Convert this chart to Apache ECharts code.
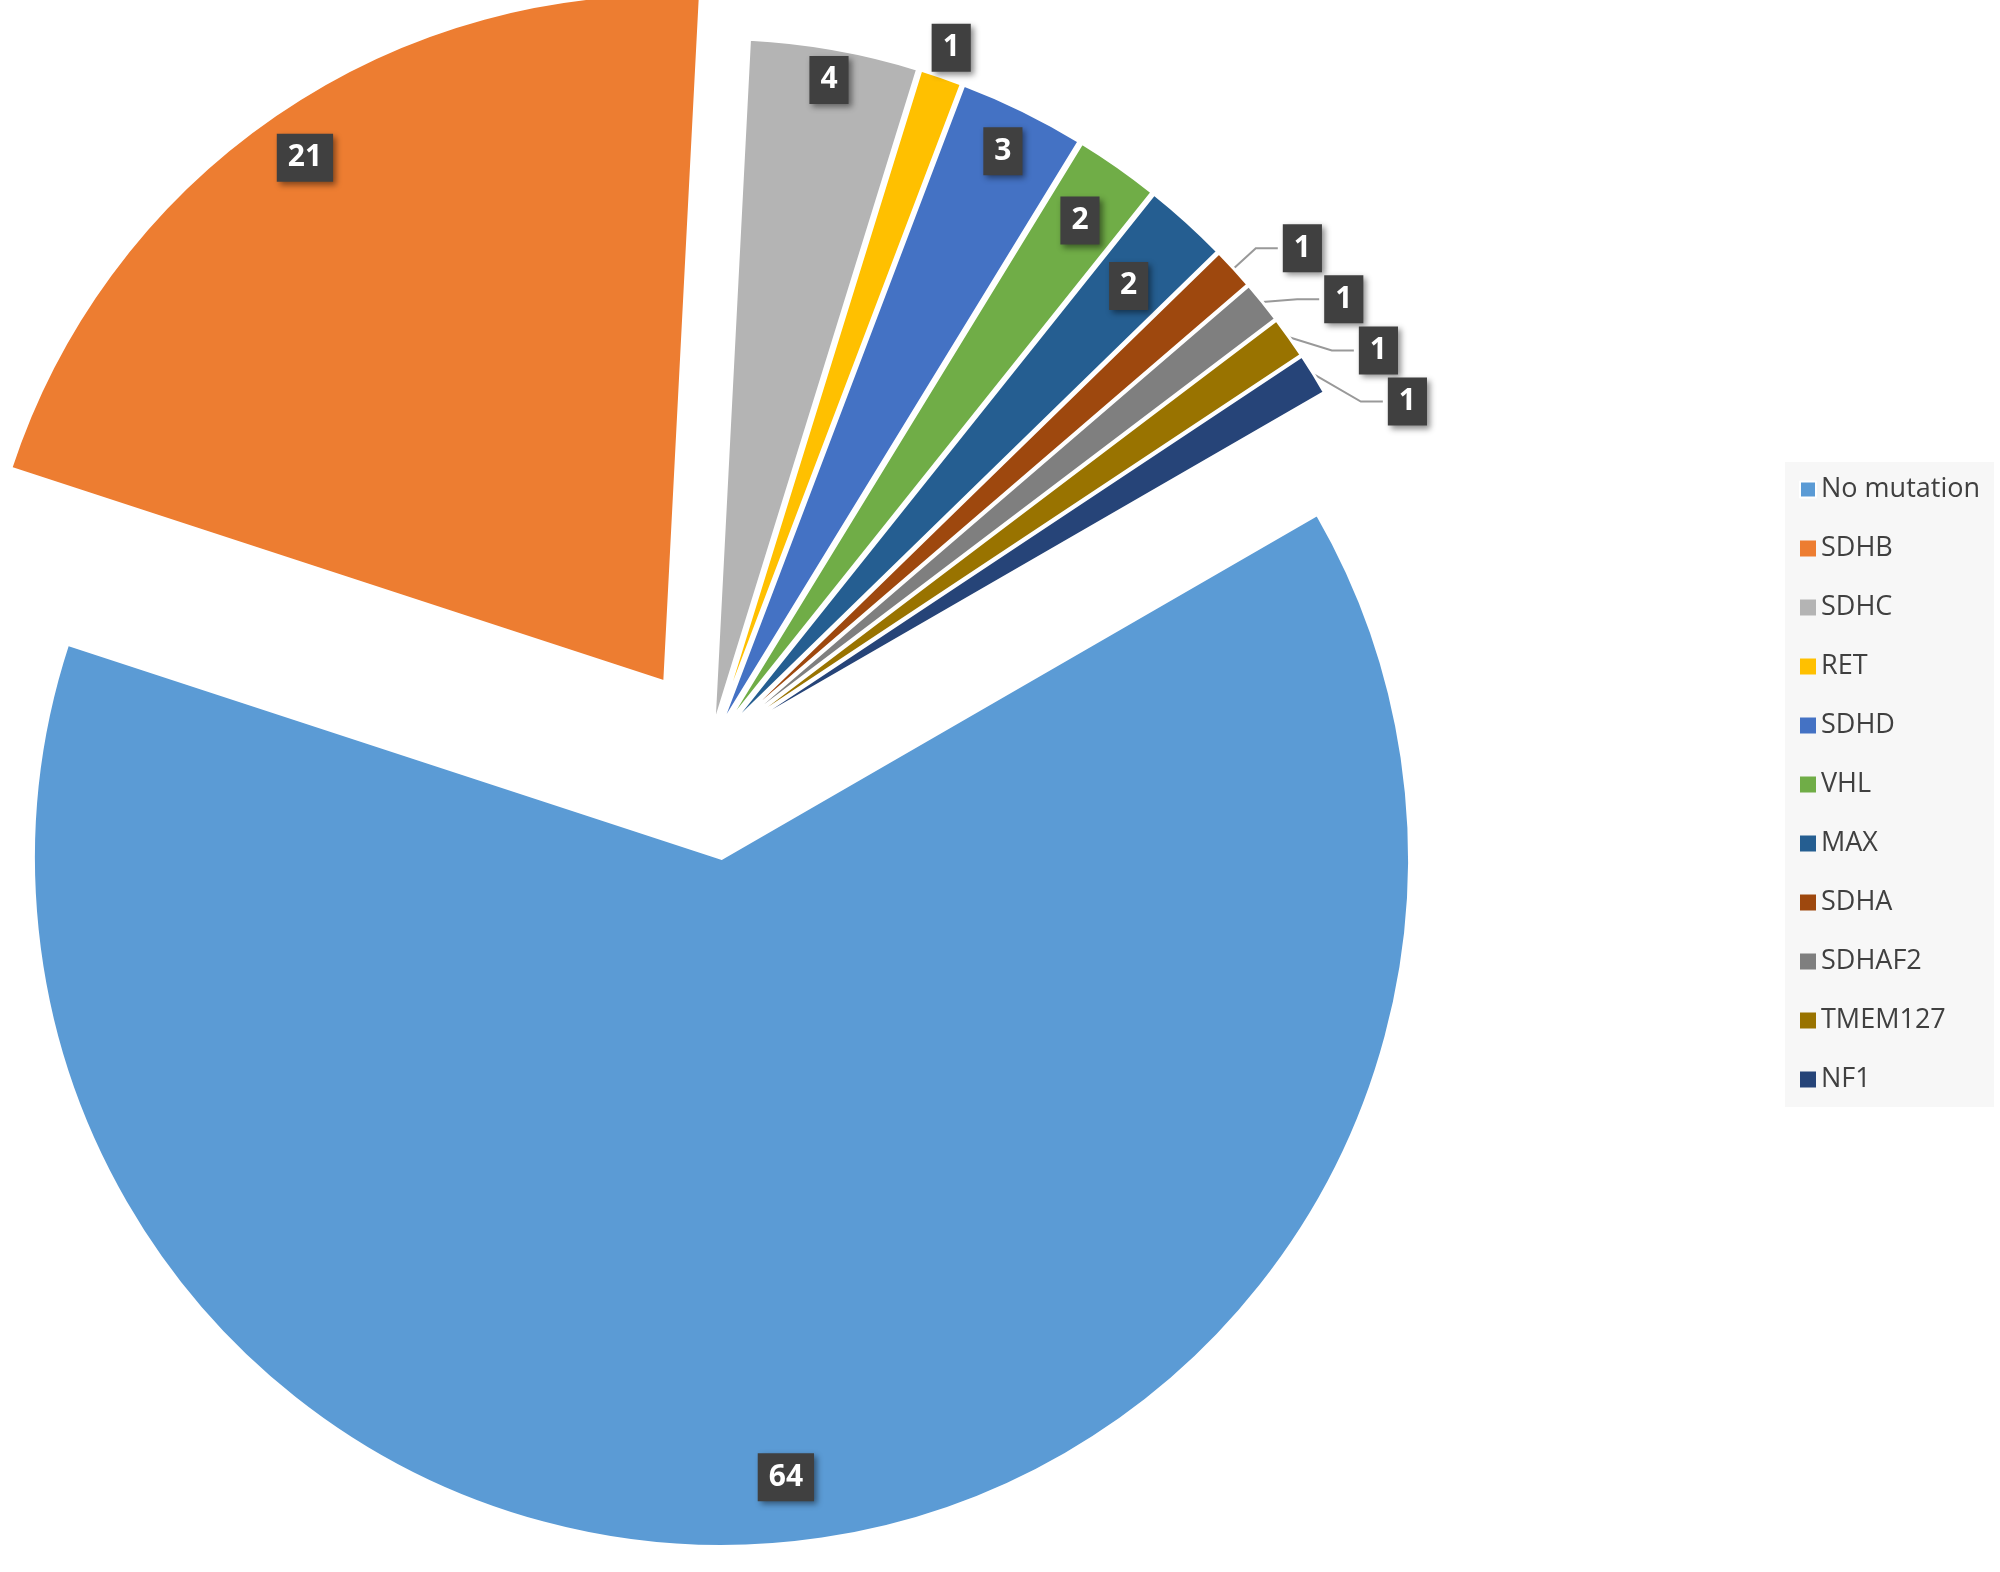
<!DOCTYPE html>
<html>
<head>
<meta charset="utf-8">
<script src="https://cdn.jsdelivr.net/npm/echarts@6/dist/echarts.min.js"></script>
<style>html,body{margin:0;background:#fff}#chart{width:2000px;height:1572px}</style>
</head>
<body>
<div id="chart"></div>
<script>
const genes = ['No mutation', 'SDHB', 'SDHC', 'RET', 'SDHD', 'VHL', 'MAX', 'SDHA', 'SDHAF2', 'TMEM127', 'NF1'];
const counts = [64, 21, 4, 1, 3, 2, 2, 1, 1, 1, 1];
const colors = ['#5B9BD5', '#ED7D31', '#B4B4B4', '#FFC000', '#4472C4', '#70AD47', '#255E91', '#9E480E', '#7F7F7F', '#997300', '#264478'];

const cx = 710, cy = 748, R = 688, startAngle = 30;
const total = counts.reduce((a, b) => a + b, 0);
// angle of the middle of each slice (degrees, counter-clockwise from 3 o'clock)
const mids = [];
let acc = startAngle;
counts.forEach(v => {
    const span = v / total * 360;
    mids.push(acc - span / 2);
    acc -= span;
});
// which series each slice belongs to, with how far it is pulled out
const groups = [
    { members: [0], offset: 111 },
    { members: [1], offset: 80 },
    { members: [2, 3, 4, 5, 6, 7, 8, 9, 10], offset: 22 }
];
// label radius as a fraction of R (inside labels), null = outside with leader line
const labelAt = [0.9, 0.92, 0.95, 1.04, 0.93, 0.9, 0.87, null, null, null, null];

const baseLabel = {
    color: '#fff', fontWeight: 'bold', fontSize: 30, fontFamily: 'Open Sans',
    backgroundColor: '#404040', padding: [9, 11],
    shadowColor: 'rgba(0,0,0,0.45)', shadowBlur: 6, shadowOffsetX: 3, shadowOffsetY: 3
};

const series = groups.map(g => {
    return {
        type: 'pie',
        radius: [0, R],
        center: [cx, cy],
        startAngle: startAngle,
        clockwise: true,
        selectedMode: 'multiple',
        selectedOffset: g.offset,
        animation: false,
        avoidLabelOverlap: true,
        labelLine: { show: true, length: 30, length2: 22, lineStyle: { color: '#999', width: 2 } },
        labelLayout: function (p) {
            const k = labelAt[p.dataIndex];
            if (k == null) return {};
            const a = mids[p.dataIndex] * Math.PI / 180;
            const d = (k - 0.5) * R;
            return { dx: Math.cos(a) * d, dy: -Math.sin(a) * d };
        },
        data: genes.map((name, i) => {
            const on = g.members.includes(i);
            if (!on) {
                return {
                    name: name, value: counts[i],
                    itemStyle: { color: 'rgba(0,0,0,0)', borderWidth: 0 },
                    label: { show: false }, labelLine: { show: false },
                    emphasis: { disabled: true }, tooltip: { show: false }
                };
            }
            const outside = labelAt[i] == null;
            return {
                name: name, value: counts[i], selected: true,
                itemStyle: { color: colors[i], borderColor: '#fff', borderWidth: 3 },
                label: Object.assign({ show: true, position: outside ? 'outside' : 'inside', formatter: '{c}' }, baseLabel),
                labelLine: { show: outside }
            };
        })
    };
});

const chart = echarts.init(document.getElementById('chart'));
chart.setOption({
    backgroundColor: '#fff',
    legend: {
        orient: 'vertical',
        left: 1785, top: 462,
        itemWidth: 16, itemHeight: 16, itemGap: 32,
        icon: 'rect',
        backgroundColor: '#f7f7f7',
        padding: [14, 14],
        textStyle: { fontSize: 27, color: '#404040', fontFamily: 'Open Sans' },
        data: genes.map((g, i) => ({ name: g, itemStyle: { color: colors[i] } })),
        selectedMode: false
    },
    series: series
});
</script>
</body>
</html>
